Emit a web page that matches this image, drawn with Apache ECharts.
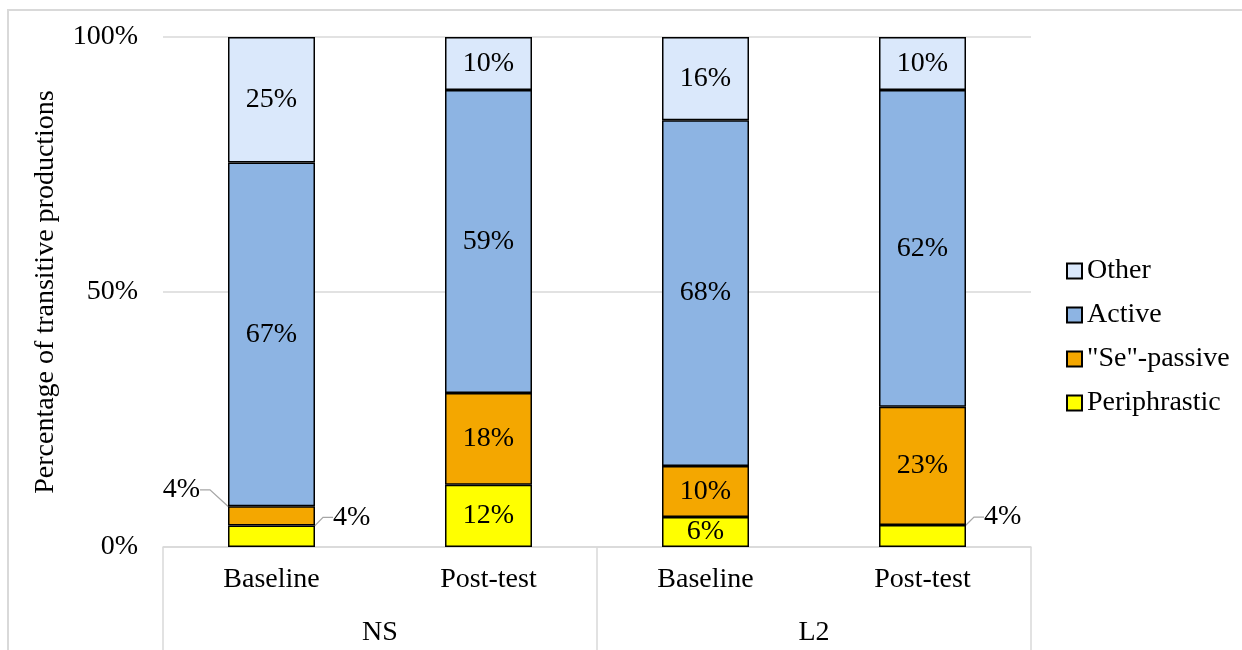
<!DOCTYPE html>
<html>
<head>
<meta charset="utf-8">
<script src="https://cdn.jsdelivr.net/npm/echarts@6/dist/echarts.min.js"></script>
<style>
  html, body { margin: 0; padding: 0; background: #fff; }
  #chart { width: 1242px; height: 650px; }
</style>
</head>
<body>
<div id="chart"></div>
<script>
// Share of transitive productions by construction type, per group and test
const categories = ['Baseline', 'Post-test', 'Baseline', 'Post-test'];
const groups = ['NS', 'L2'];
const seriesNames = ['Periphrastic', '"Se"-passive', 'Active', 'Other'];
const periphrastic = [4.2, 12.2, 5.9, 4.3];
const sePassive = [3.8, 18.0, 10.0, 23.2];
const active = [67.4, 59.4, 67.8, 62.1];
const other = [24.6, 10.4, 16.3, 10.4];
const yTicks = [0, 50, 100];

const FONT = 'Liberation Serif';
const FS = 28;
const colors = ['#ffff00', '#f4a700', '#8db4e3', '#dae8fb'];
const values = [periphrastic, sePassive, active, other];

// small segments get their label pulled outside the bar with a guide line
const outside = {
  '0-0': { position: 'right', dx: 14, dy: -19 },
  '1-0': { position: 'left', dx: -24, dy: -26 },
  '0-3': { position: 'right', dx: 14, dy: -19 }
};

const series = values.map((vals, si) => ({
  name: seriesNames[si],
  type: 'bar',
  stack: 'total',
  barWidth: 87,
  itemStyle: { color: colors[si], borderColor: '#000', borderWidth: 1.5 },
  data: vals.map((v, di) => {
    const o = outside[si + '-' + di];
    const item = { value: v };
    if (o) {
      item.label = { position: o.position, distance: 4 };
      item.labelLine = { show: true, length2: 10, lineStyle: { color: '#a6a6a6', width: 1.3 } };
    }
    return item;
  }),
  label: {
    show: true,
    position: 'inside',
    color: '#000',
    fontFamily: FONT,
    fontSize: FS,
    formatter: p => Math.round(p.value) + '%'
  },
  labelLayout: params => {
    const o = outside[params.seriesIndex + '-' + params.dataIndex];
    return o ? { dx: o.dx, dy: o.dy } : {};
  }
}));

const chart = echarts.init(document.getElementById('chart'), null, { renderer: 'canvas' });
chart.setOption({
  animation: false,
  backgroundColor: '#fff',
  textStyle: { fontFamily: FONT },
  graphic: [{
    type: 'rect',
    shape: { x: 8, y: 10, width: 1300, height: 700 },
    style: { fill: 'none', stroke: '#d9d9d9', lineWidth: 2 },
    silent: true
  }],
  grid: { left: 163, right: 211, top: 37, bottom: 103, containLabel: false },
  legend: {
    orient: 'vertical',
    left: 1061,
    top: 252,
    icon: 'rect',
    itemWidth: 15,
    itemHeight: 15,
    itemGap: 16,
    data: ['Other', 'Active', '"Se"-passive', 'Periphrastic'],
    textStyle: { fontFamily: FONT, fontSize: FS, color: '#000' }
  },
  xAxis: [{
    type: 'category',
    position: 'bottom',
    data: categories,
    axisLine: { show: true, lineStyle: { color: '#d9d9d9', width: 1.5 } },
    axisTick: { show: false },
    axisLabel: { margin: 19, color: '#000', fontFamily: FONT, fontSize: FS }
  }, {
    type: 'category',
    position: 'bottom',
    data: groups,
    axisLine: { show: false },
    axisTick: { show: true, length: 103, lineStyle: { color: '#d9d9d9', width: 1.5 } },
    axisLabel: { margin: 72, color: '#000', fontFamily: FONT, fontSize: FS }
  }],
  yAxis: {
    type: 'value',
    min: yTicks[0],
    max: yTicks[yTicks.length - 1],
    interval: yTicks[1] - yTicks[0],
    name: 'Percentage of transitive productions',
    nameLocation: 'middle',
    nameGap: 103,
    nameTextStyle: { fontFamily: FONT, fontSize: FS, color: '#000' },
    axisLine: { show: false },
    axisTick: { show: false },
    axisLabel: { margin: 25, color: '#000', fontFamily: FONT, fontSize: FS, formatter: '{value}%' },
    splitLine: { lineStyle: { color: '#d9d9d9', width: 1.5 } }
  },
  series: series
});
</script>
</body>
</html>
